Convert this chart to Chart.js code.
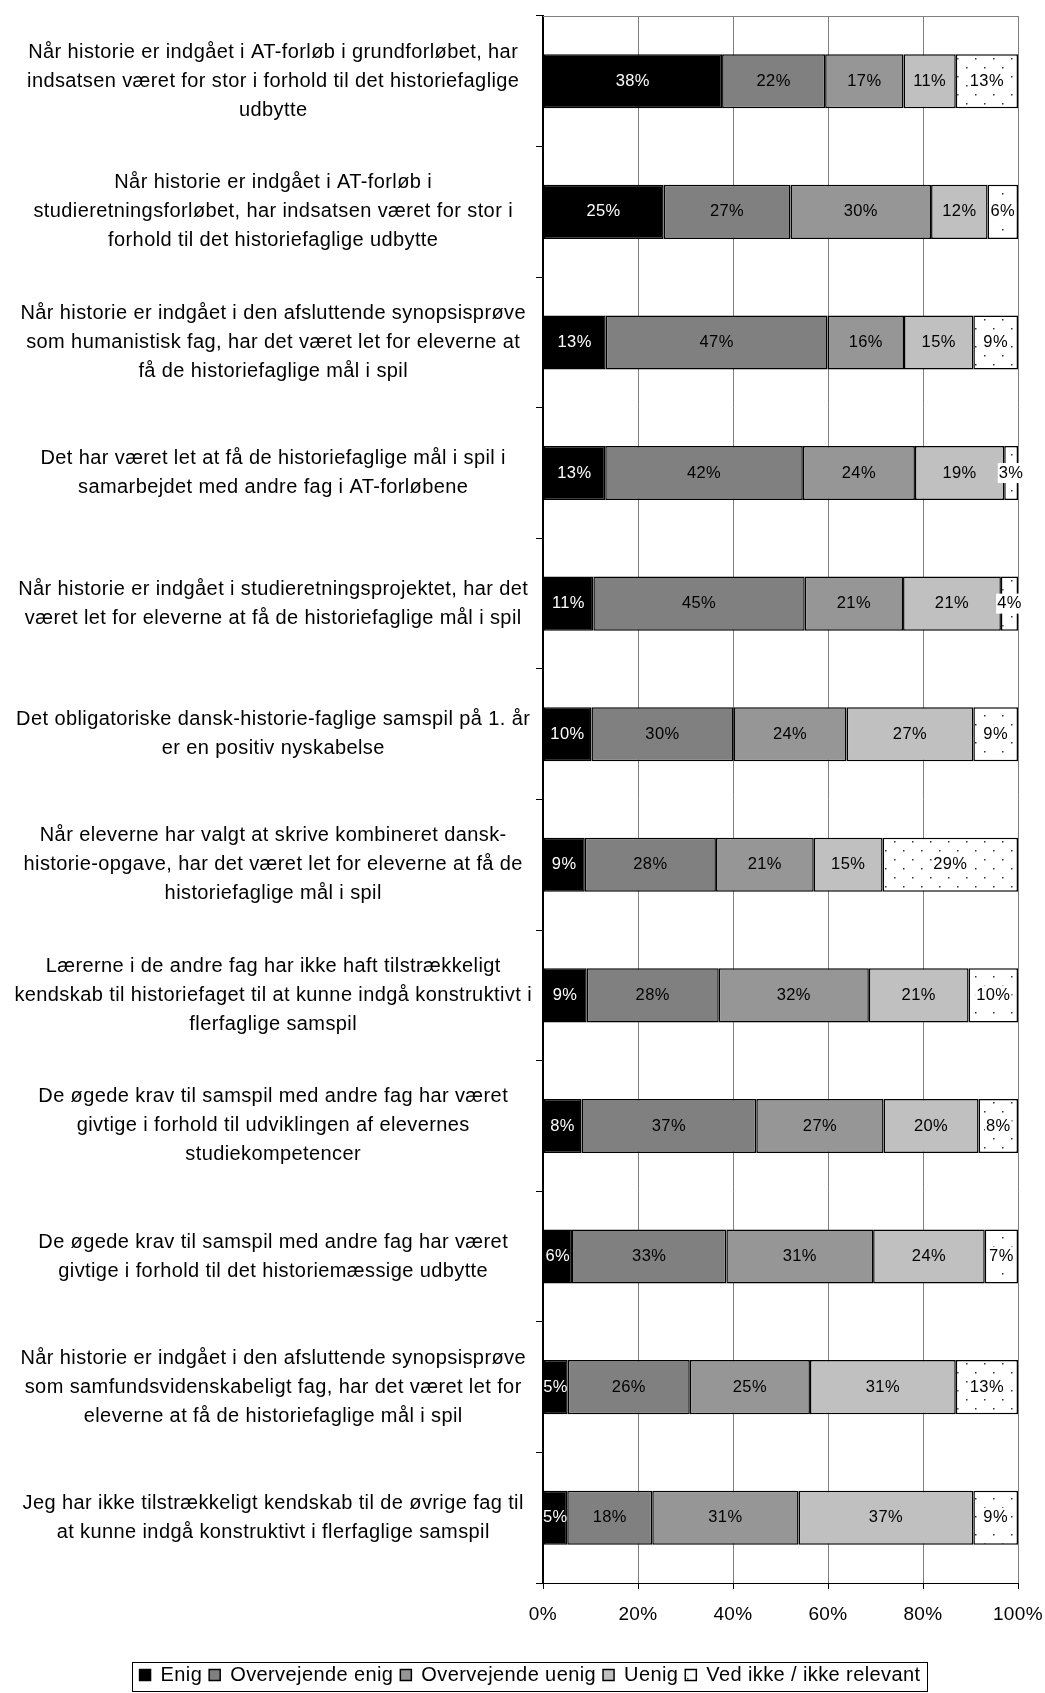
<!DOCTYPE html>
<html>
<head>
<meta charset="utf-8">
<script src="https://cdn.jsdelivr.net/npm/chart.js@4.4.1/dist/chart.umd.min.js"></script>
<style>
  body { margin: 0; background: #fff; }
  #wrap { width: 1045px; height: 1693px; }
</style>
</head>
<body>
<div id="wrap"><canvas id="chart"></canvas></div>
<script>
// Statements (category labels), line breaks as in the picture
const statements = [
  ["Når historie er indgået i AT-forløb i grundforløbet, har", "indsatsen været for stor i forhold til det historiefaglige", "udbytte"],
  ["Når historie er indgået i AT-forløb i", "studieretningsforløbet, har indsatsen været for stor i", "forhold til det historiefaglige udbytte"],
  ["Når historie er indgået i den afsluttende synopsisprøve", "som humanistisk fag, har det været let for eleverne at", "få de historiefaglige mål i spil"],
  ["Det har været let at få de historiefaglige mål i spil i", "samarbejdet med andre fag i AT-forløbene"],
  ["Når historie er indgået i studieretningsprojektet, har det", "været let for eleverne at få de historiefaglige mål i spil"],
  ["Det obligatoriske dansk-historie-faglige samspil på 1. år", "er en positiv nyskabelse"],
  ["Når eleverne har valgt at skrive kombineret dansk-", "historie-opgave, har det været let for eleverne at få de", "historiefaglige mål i spil"],
  ["Lærerne i de andre fag har ikke haft tilstrækkeligt", "kendskab til historiefaget til at kunne indgå konstruktivt i", "flerfaglige samspil"],
  ["De øgede krav til samspil med andre fag har været", "givtige i forhold til udviklingen af elevernes", "studiekompetencer"],
  ["De øgede krav til samspil med andre fag har været", "givtige i forhold til det historiemæssige udbytte"],
  ["Når historie er indgået i den afsluttende synopsisprøve", "som samfundsvidenskabeligt fag, har det været let for", "eleverne at få de historiefaglige mål i spil"],
  ["Jeg har ikke tilstrækkeligt kendskab til de øvrige fag til", "at kunne indgå konstruktivt i flerfaglige samspil"]
];

const seriesNames = ["Enig", "Overvejende enig", "Overvejende uenig", "Uenig", "Ved ikke / ikke relevant"];

// percent shares per statement
const enig        = [37.7, 25.4, 13.2, 13.1, 10.6, 10.2,  8.8,  9.2,  8.1,  6.1,  5.2,  5.1];
const overvEnig   = [21.7, 26.7, 46.7, 41.6, 44.5, 29.9, 27.6, 27.8, 36.8, 32.5, 25.7, 17.9];
const overvUenig  = [16.5, 29.6, 16.1, 23.6, 20.7, 23.8, 20.6, 31.6, 26.8, 30.9, 25.3, 30.8];
const uenig       = [11.0, 11.9, 14.6, 18.8, 20.6, 26.7, 14.5, 21.0, 20.0, 23.5, 30.7, 36.8];
const vedIkke     = [13.1,  6.4,  9.4,  2.9,  3.6,  9.4, 28.5, 10.4,  8.3,  7.0, 13.1,  9.4];

const xTicks = [0, 20, 40, 60, 80, 100];

// sparse dotted fill for "Ved ikke"
function dotPattern() {
  const n = 18;
  const c = document.createElement("canvas");
  c.width = n; c.height = n;
  const g = c.getContext("2d");
  g.fillStyle = "#fff";
  g.fillRect(0, 0, n, n);
  g.fillStyle = "#333";
  g.fillRect(3, 4, 1.5, 1.5);
  g.fillRect(12, 13, 1.5, 1.5);
  return g.createPattern(c, "repeat");
}

const fills = ["#000000", "#808080", "#969696", "#c0c0c0", dotPattern()];
const values = [enig, overvEnig, overvUenig, uenig, vedIkke];

const FONT = "'Liberation Sans', Arial, sans-serif";
const LS = "0.4px";

// the original text is set a little wider than plain Arial
const spacing = {
  id: "spacing",
  beforeUpdate(chart) { chart.ctx.letterSpacing = LS; },
  beforeDraw(chart) { chart.ctx.letterSpacing = LS; },
  afterLayout(chart) {
    // legend sits a bit right of the middle and lower in the original
    const lg = chart.legend;
    const dx = 21, dy = 2;
    lg.left += dx; lg.right += dx;
    lg.top += dy; lg.bottom += dy;
    lg.legendHitBoxes.forEach(h => { h.left += dx; h.top += dy; });
  }
};

// percentage text inside each segment
const barLabels = {
  id: "barLabels",
  afterDatasetsDraw(chart) {
    const ctx = chart.ctx;
    ctx.save();
    ctx.font = "16.5px " + FONT;
    ctx.textAlign = "center";
    ctx.textBaseline = "middle";
    chart.data.datasets.forEach((ds, i) => {
      const meta = chart.getDatasetMeta(i);
      meta.data.forEach((bar, j) => {
        const cx = (bar.x + bar.base) / 2;
        const txt = Math.round(ds.data[j]) + "%";
        if (i === 4) {
          const w = ctx.measureText(txt).width;
          ctx.fillStyle = "#fff";
          ctx.fillRect(cx - w / 2 - 1, bar.y - 10, w + 2, 20);
        }
        ctx.fillStyle = i === 0 ? "#fff" : "#000";
        ctx.fillText(txt, cx, bar.y);
      });
    });
    ctx.restore();
  }
};

// gray top frame line and box around legend
const frame = {
  id: "frame",
  beforeDatasetsDraw(chart) {
    const { ctx, chartArea } = chart;
    ctx.save();
    ctx.strokeStyle = "#808080";
    ctx.lineWidth = 1;
    ctx.beginPath();
    ctx.moveTo(chartArea.left, chartArea.top + 0.5);
    ctx.lineTo(chartArea.right, chartArea.top + 0.5);
    ctx.stroke();
    ctx.restore();
  },
  afterDraw(chart) {
    const lg = chart.legend;
    if (!lg || !lg.legendHitBoxes.length) return;
    const boxes = lg.legendHitBoxes;
    const l = boxes[0].left - 8;
    const last = boxes[boxes.length - 1];
    const r = last.left + last.width + 6;
    const t = boxes[0].top - 5;
    const b = Math.min(boxes[0].top + boxes[0].height + 5, chart.height - 2);
    const ctx = chart.ctx;
    ctx.save();
    ctx.strokeStyle = "#000";
    ctx.lineWidth = 1;
    ctx.strokeRect(Math.round(l) + 0.5, Math.round(t) + 0.5, Math.round(r - l), Math.round(b - t));
    ctx.restore();
  }
};

new Chart(document.getElementById("chart"), {
  type: "bar",
  data: {
    labels: statements,
    datasets: seriesNames.map((name, i) => ({
      label: name,
      data: values[i],
      backgroundColor: fills[i],
      borderColor: "#000",
      borderWidth: 1.5,
      borderSkipped: false,
      barPercentage: 0.414,
      categoryPercentage: 1
    }))
  },
  options: {
    indexAxis: "y",
    responsive: true,
    maintainAspectRatio: false,
    animation: false,
    layout: { padding: { top: 16, right: 27, left: 0, bottom: 0 } },
    scales: {
      x: {
        stacked: true,
        min: 0,
        max: 100,
        afterBuildTicks(scale) {
          scale.ticks = xTicks.map(v => ({ value: v }));
        },
        afterFit(scale) {
          scale.height = 73;
          scale.paddingLeft = 0;
          scale.paddingRight = 0;
        },
        ticks: {
          callback: v => v + "%",
          color: "#000",
          font: { family: FONT, size: 19 },
          padding: 14
        },
        grid: { color: "#808080", lineWidth: 1, tickLength: 6, tickColor: "#000" },
        border: { color: "#000", width: 1 }
      },
      y: {
        stacked: true,
        afterFit(scale) {
          scale.width = 543;
          scale.paddingTop = 0;
          scale.paddingBottom = 0;
        },
        ticks: {
          crossAlign: "center",
          color: "#000",
          font: { family: FONT, size: 20, lineHeight: 1.45 },
          padding: 4
        },
        grid: { offset: true, drawOnChartArea: false, tickLength: 7, color: "#000" },
        border: { color: "#000", width: 2 }
      }
    },
    plugins: {
      legend: {
        position: "bottom",
        labels: {
          color: "#000",
          font: { family: FONT, size: 20 },
          boxWidth: 11,
          boxHeight: 11,
          padding: 7
        }
      },
      tooltip: { enabled: false }
    }
  },
  plugins: [spacing, barLabels, frame]
});
</script>
</body>
</html>
